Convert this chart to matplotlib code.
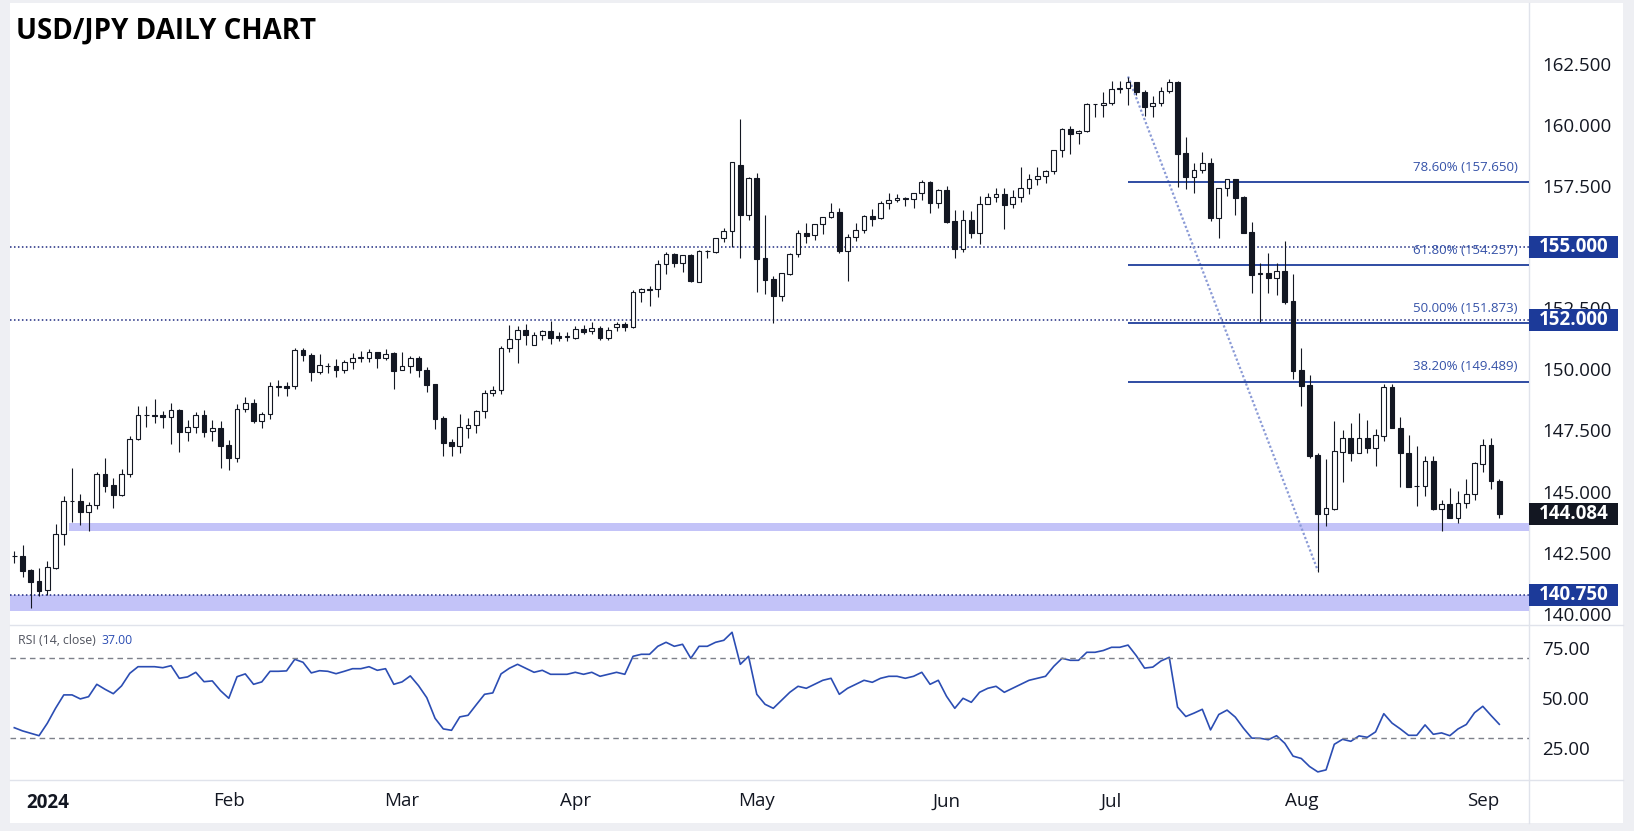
import numpy as np
import pandas as pd
import matplotlib
matplotlib.use("Agg")
import matplotlib.pyplot as plt
from matplotlib.patches import Rectangle
from matplotlib.lines import Line2D
from matplotlib.transforms import blended_transform_factory

plt.rcParams['font.family'] = ['Open Sans', 'DejaVu Sans']

# ---- data ----
dates = pd.bdate_range("2023-12-26", "2024-09-04")
dates = dates[dates != pd.Timestamp("2024-01-01")]

opens = [142.38, 142.36, 141.79, 141.34, 140.96, 141.88, 143.25, 144.60, 144.60, 144.17,
         144.43, 145.71, 145.25, 144.87, 145.70, 147.13, 148.11, 148.11, 148.11, 148.06,
         148.33, 147.45, 147.62, 148.11, 147.46, 147.59, 146.89, 146.38, 148.36, 148.64,
         147.90, 148.15, 149.29, 149.30, 149.30, 150.77, 150.57, 149.90, 150.15, 150.12,
         149.99, 150.28, 150.48, 150.48, 150.69, 150.47, 150.65, 149.95, 150.12, 150.48,
         149.99, 149.38, 147.99, 147.01, 146.87, 147.61, 147.70, 148.28, 149.01, 149.14,
         150.85, 151.22, 151.59, 150.98, 151.39, 151.55, 151.36, 151.33, 151.29, 151.64,
         151.55, 151.67, 151.29, 151.71, 151.84, 151.74, 153.16, 153.26, 153.27, 154.29,
         154.71, 154.36, 154.67, 153.58, 154.83, 154.81, 155.35, 155.64, 158.34, 156.32,
         157.82, 154.53, 153.68, 153.01, 153.91, 154.70, 155.56, 155.48, 155.93, 156.21,
         156.42, 154.85, 155.39, 155.68, 156.27, 156.17, 156.78, 156.91, 156.99, 156.95,
         157.19, 157.64, 156.82, 157.32, 156.06, 154.90, 156.09, 155.58, 156.74, 157.03,
         157.15, 156.74, 157.03, 157.40, 157.77, 157.89, 158.09, 158.95, 159.81, 159.65,
         159.73, 160.83, 160.79, 160.91, 161.47, 161.49, 161.73, 161.32, 160.75, 160.87,
         161.37, 161.73, 158.83, 157.87, 158.13, 158.42, 156.20, 157.40, 157.77, 157.03,
         155.61, 153.91, 153.92, 153.74, 154.00, 152.78, 149.97, 149.34, 146.48, 144.09,
         144.28, 146.63, 147.17, 146.59, 147.17, 146.79, 147.28, 149.26, 147.58, 146.56,
         145.22, 145.22, 146.23, 144.27, 144.47, 143.90, 144.55, 144.91, 146.11, 146.89,
         145.41]
highs = [142.56, 142.81, 141.82, 141.88, 142.16, 143.67, 144.81, 145.96, 144.90, 144.57,
         145.78, 146.37, 145.55, 145.92, 147.27, 148.50, 148.50, 148.78, 148.29, 148.64,
         148.36, 147.92, 148.24, 148.32, 147.92, 147.88, 147.09, 148.56, 148.85, 148.78,
         148.25, 149.48, 149.56, 149.48, 150.87, 150.87, 150.65, 150.62, 150.25, 150.42,
         150.36, 150.66, 150.74, 150.83, 150.72, 150.81, 150.69, 150.69, 150.53, 150.53,
         150.08, 149.40, 148.07, 147.13, 148.17, 147.99, 148.34, 149.15, 149.30, 150.95,
         151.81, 151.75, 151.84, 151.51, 151.60, 151.99, 151.51, 151.51, 151.77, 151.79,
         151.92, 151.77, 151.71, 151.92, 151.92, 153.24, 153.32, 153.39, 154.45, 154.78,
         154.77, 154.68, 154.70, 154.86, 154.87, 155.36, 155.77, 158.46, 160.23, 157.85,
         158.02, 156.31, 153.81, 153.93, 154.75, 155.69, 155.97, 155.93, 156.23, 156.78,
         156.58, 155.52, 155.97, 156.29, 156.55, 156.89, 157.19, 157.17, 157.06, 157.19,
         157.74, 157.70, 157.36, 157.49, 156.51, 156.51, 156.47, 157.08, 157.19, 157.40,
         157.40, 157.32, 158.26, 157.97, 158.26, 158.13, 158.95, 159.85, 159.93, 159.78,
         160.87, 160.84, 161.34, 161.79, 161.79, 161.97, 161.75, 161.41, 161.16, 161.54,
         161.87, 161.79, 159.50, 158.43, 158.87, 158.63, 157.40, 157.77, 157.79, 157.10,
         156.01, 154.33, 154.74, 154.33, 155.24, 153.89, 150.87, 149.76, 146.56, 146.33,
         147.88, 147.51, 147.80, 148.21, 147.92, 147.55, 149.40, 149.40, 148.03, 147.31,
         146.85, 146.45, 146.45, 144.65, 145.15, 145.03, 145.50, 146.22, 147.13, 147.17,
         145.50]
lows = [142.06, 141.51, 140.22, 140.74, 140.78, 141.81, 142.81, 143.76, 143.63, 143.40,
        144.30, 144.99, 144.34, 144.83, 145.58, 147.10, 147.65, 147.81, 147.61, 146.95,
        146.63, 147.08, 147.40, 147.24, 147.08, 145.97, 145.89, 146.22, 148.26, 147.81,
        147.61, 147.95, 148.92, 148.92, 149.20, 150.35, 149.53, 149.82, 149.86, 149.69,
        149.86, 150.02, 150.31, 150.31, 150.06, 150.39, 149.20, 149.95, 149.86, 149.69,
        149.08, 147.57, 146.46, 146.46, 146.59, 147.20, 147.40, 148.02, 148.92, 149.00,
        150.72, 150.27, 151.00, 150.98, 151.21, 151.04, 151.17, 151.17, 151.25, 151.45,
        151.45, 151.19, 151.19, 151.58, 151.58, 151.70, 152.76, 152.60, 152.97, 153.91,
        154.19, 153.99, 153.58, 153.58, 154.56, 154.77, 155.22, 155.01, 154.56, 156.10,
        153.15, 153.09, 151.88, 152.80, 153.85, 154.58, 155.18, 155.30, 155.54, 156.17,
        154.74, 153.62, 155.26, 155.56, 155.87, 156.14, 156.56, 156.85, 156.69, 156.61,
        156.93, 156.40, 156.61, 155.99, 154.56, 154.81, 155.38, 155.13, 156.74, 156.85,
        155.75, 156.61, 156.85, 157.18, 157.55, 157.63, 157.97, 158.69, 158.81, 159.22,
        159.69, 160.33, 160.33, 160.79, 161.31, 160.82, 161.21, 160.37, 160.33, 160.78,
        161.31, 157.45, 157.37, 157.22, 158.04, 156.08, 155.38, 157.10, 156.32, 155.58,
        153.13, 151.94, 153.13, 153.05, 152.68, 149.61, 148.51, 146.38, 141.70, 143.60,
        144.26, 145.40, 146.25, 146.59, 146.59, 146.06, 147.08, 147.58, 145.17, 145.17,
        144.42, 144.83, 144.23, 143.40, 143.90, 143.70, 144.31, 144.64, 145.78, 145.09,
        143.93]
closes = [142.36, 141.76, 141.31, 140.94, 141.91, 143.25, 144.60, 144.62, 144.17, 144.43,
          145.71, 145.24, 144.87, 145.70, 147.13, 148.11, 148.12, 148.10, 148.06, 148.32,
          147.45, 147.62, 148.11, 147.45, 147.58, 146.87, 146.38, 148.36, 148.64, 147.90,
          148.15, 149.30, 149.30, 149.24, 150.77, 150.57, 149.90, 150.16, 150.12, 149.98,
          150.28, 150.48, 150.49, 150.69, 150.47, 150.63, 149.94, 150.12, 150.48, 149.99,
          149.37, 147.98, 147.00, 146.87, 147.62, 147.70, 148.29, 149.01, 149.14, 150.85,
          151.22, 151.59, 151.41, 151.39, 151.55, 151.29, 151.29, 151.35, 151.63, 151.53,
          151.67, 151.29, 151.60, 151.84, 151.74, 153.16, 153.27, 153.28, 154.29, 154.70,
          154.36, 154.66, 153.60, 154.82, 154.83, 155.35, 155.65, 158.46, 156.32, 157.82,
          154.52, 153.66, 153.01, 153.93, 154.71, 155.56, 155.46, 155.93, 156.23, 156.42,
          154.85, 155.41, 155.68, 156.25, 156.16, 156.78, 156.91, 156.99, 156.95, 157.19,
          157.64, 156.81, 157.32, 156.03, 154.90, 156.09, 155.58, 156.74, 157.03, 157.15,
          156.73, 157.03, 157.40, 157.77, 157.89, 158.09, 158.95, 159.81, 159.63, 159.74,
          160.85, 160.84, 160.91, 161.45, 161.48, 161.73, 161.32, 160.74, 160.87, 161.37,
          161.73, 158.82, 157.87, 158.13, 158.42, 156.20, 157.40, 157.77, 157.02, 155.58,
          153.87, 153.93, 153.74, 154.00, 152.76, 149.94, 149.33, 146.46, 144.09, 144.31,
          146.64, 147.17, 146.59, 147.17, 146.79, 147.31, 149.26, 147.58, 146.56, 145.20,
          145.23, 146.23, 144.27, 144.47, 143.90, 144.55, 144.91, 146.15, 146.89, 145.41,
          144.084]

rsi = [35.3, 33.7, 32.5, 31.3, 37.5, 45.0, 51.7, 51.7, 49.7, 50.8,
       57.0, 54.5, 52.3, 56.2, 62.5, 65.8, 65.8, 65.8, 65.3, 66.3,
       60.0, 60.7, 63.0, 58.3, 58.7, 53.8, 50.0, 60.8, 62.2, 57.0,
       58.2, 63.5, 63.5, 63.7, 69.5, 68.0, 62.7, 63.8, 63.5, 62.3,
       63.5, 64.8, 64.8, 65.8, 64.0, 64.8, 57.0, 58.2, 61.2, 56.3,
       50.3, 40.0, 34.7, 34.0, 40.7, 41.5, 46.8, 52.0, 52.7, 62.2,
       65.0, 67.0, 65.0, 63.0, 64.0, 62.0, 62.0, 62.0, 63.0, 62.0,
       63.0, 61.0, 62.0, 63.0, 62.0, 71.0, 72.0, 72.0, 76.0, 78.0,
       76.0, 77.0, 70.0, 76.0, 76.0, 78.0, 79.0, 83.0, 67.0, 71.0,
       52.0, 47.0, 45.0, 49.0, 53.0, 56.0, 55.0, 57.0, 59.0, 60.0,
       52.0, 55.0, 57.0, 59.0, 58.0, 60.0, 61.0, 61.0, 60.0, 61.0,
       63.0, 57.0, 59.0, 51.0, 45.0, 50.0, 48.0, 53.0, 55.0, 56.0,
       53.0, 55.0, 57.0, 59.0, 60.0, 61.0, 66.0, 70.0, 69.0, 69.0,
       73.0, 73.0, 73.9, 75.5, 75.5, 76.6, 71.3, 65.1, 65.6, 68.7,
       70.5, 45.6, 40.9, 42.6, 44.5, 34.2, 41.9, 44.1, 40.6, 35.0,
       30.1, 30.0, 29.3, 31.3, 27.5, 21.1, 19.9, 15.9, 13.2, 14.2,
       27.0, 29.5, 28.5, 31.2, 30.5, 33.2, 42.3, 37.6, 34.7, 31.5,
       31.5, 36.7, 32.0, 32.7, 31.3, 34.7, 36.9, 42.8, 46.0, 41.4,
       37.0]

fib_ratios = ["38.20%", "50.00%", "61.80%", "78.60%"]
fib_prices = [149.489, 151.873, 154.257, 157.650]
swing_high, swing_low = 161.975, 141.7715
key_levels = [155.0, 152.0]
zones = [(143.40, 143.72, "2024-01-05"), (140.10, 140.75, None)]
axis_tags = [(155.0, "#1c3a99"), (152.0, "#1c3a99"), (144.084, "#131722"), (140.75, "#1c3a99")]

# ---- layout in pixels ----
W, H = 1634, 831
def box(x0, y0, x1, y1):
    return [x0 / W, 1 - y1 / H, (x1 - x0) / W, (y1 - y0) / H]

fig = plt.figure(figsize=(W / 100, H / 100), dpi=100, facecolor="#eeeff3")
fig.patches.append(Rectangle((10 / W, 1 - 823 / H), 1613 / W, 820 / H,
                             transform=fig.transFigure, facecolor="white",
                             edgecolor="none", zorder=-10))

ax = fig.add_axes(box(10, 3, 1529, 625))
rx = fig.add_axes(box(10, 625, 1529, 780), sharex=ax)
for a in (ax, rx):
    a.set_facecolor("none")
    for s in a.spines.values():
        s.set_visible(False)

sep = "#e0e3eb"
fig.add_artist(Line2D([1529 / W, 1529 / W], [1 - 3 / H, 1 - 823 / H], color=sep, lw=1, zorder=-5))
fig.add_artist(Line2D([10 / W, 1623 / W], [1 - 625 / H, 1 - 625 / H], color=sep, lw=1, zorder=-5))
fig.add_artist(Line2D([10 / W, 1623 / W], [1 - 780 / H, 1 - 780 / H], color=sep, lw=1, zorder=-5))

x = np.arange(len(dates))
o = np.array(opens); h = np.array(highs); l = np.array(lows); c = np.array(closes)
xmax = 183.6
ax.set_xlim(-0.52, xmax)
ax.set_ylim(139.54, 164.98)

ink = "#131722"
# candles
ax.vlines(x, l, h, color=ink, lw=0.8, zorder=3)
up = c >= o
bw = 0.58
ax.bar(x[up], np.maximum(c[up] - o[up], 0.015), bottom=o[up], width=bw,
       color="white", edgecolor=ink, linewidth=0.8, zorder=4)
ax.bar(x[~up], o[~up] - c[~up], bottom=c[~up], width=bw,
       color=ink, edgecolor=ink, linewidth=0.8, zorder=4)

# zones and levels
for lo, hi, start in zones:
    x0 = -0.52 if start is None else dates.get_loc(pd.Timestamp(start)) - 0.4
    ax.add_patch(Rectangle((x0, lo), xmax - x0, hi - lo, facecolor="#c3c3f8",
                           edgecolor="none", zorder=1))
for lvl in key_levels + [zones[1][1]]:
    ax.axhline(lvl, color="#1e2a80", lw=1.1, ls=(0, (1, 1.6)), zorder=2)

# fib retracement + trend line
i_hi = int(np.argmax(h))
i_lo = i_hi + int(np.argmin(l[i_hi:]))
ax.plot([i_hi, i_lo], [swing_high, swing_low], color="#8a9ad6", lw=1.6,
        ls=(0, (1, 1)), zorder=2)
ax.hlines(fib_prices, i_hi, xmax, color="#1f3e9c", lw=1.3, zorder=2)
tr = blended_transform_factory(ax.transAxes, ax.transData)
for lab, p in zip(fib_ratios, fib_prices):
    ax.text(0.9924, p + 0.62, f"{lab} ({p:.3f})", transform=tr, ha="right",
            va="center", fontsize=9.5, color="#3552a8", zorder=5)

# price axis
ax.yaxis.tick_right()
ax.set_yticks(np.arange(140, 163, 2.5))
ax.set_yticklabels([f"{v:.3f}" for v in np.arange(140, 163, 2.5)])
ax.tick_params(axis="y", length=0, pad=9.5, labelsize=13.5, labelcolor=ink)
ax.tick_params(axis="x", length=0, labelbottom=False)
for p, col in axis_tags:
    ax.add_patch(Rectangle((1.0, p - 0.45), 0.0586, 0.9, transform=tr,
                           facecolor=col, edgecolor="none", clip_on=False, zorder=10))
    ax.text(1.0296, p, f"{p:.3f}", transform=tr, ha="center", va="center",
            fontsize=13.5, fontweight="bold", color="white", clip_on=False, zorder=11)

# RSI pane
rx.plot(x, rsi, color="#2b4db3", lw=1.2)
for lvl in (70, 30):
    rx.axhline(lvl, color="#7d808a", lw=1, ls=(0, (4, 3)))
rx.set_ylim(9.15, 86.65)
rx.yaxis.tick_right()
rx.set_yticks([25, 50, 75])
rx.set_yticklabels(["25.00", "50.00", "75.00"])
rx.tick_params(axis="y", length=0, pad=9.5, labelsize=13.5, labelcolor=ink)
fig.text(18 / W, 1 - 641 / H, "RSI (14, close)", fontsize=8.8, color="#50535e", va="center")
fig.text(101 / W, 1 - 641 / H, f"{rsi[-1]:.2f}", fontsize=8.8, color="#2b4db3", va="center")

# month ticks at first bar of each month
firsts = pd.Series(x, index=dates).groupby(dates.to_period("M")).first()
firsts = firsts[firsts.index >= pd.Period("2024-01", "M")]
labels = ["2024" if p.month == 1 else p.strftime("%b") for p in firsts.index]
rx.set_xticks(firsts.values)
rx.set_xticklabels(labels)
rx.tick_params(axis="x", length=0, pad=9, labelsize=13.5, labelcolor=ink)
rx.get_xticklabels()[0].set_fontweight("bold")

fig.text(16 / W, 1 - 38.3 / H, "USD/JPY DAILY CHART", fontsize=20,
         fontweight="bold", va="baseline", color="black")

fig.savefig("out.png", dpi=100, facecolor=fig.get_facecolor())
